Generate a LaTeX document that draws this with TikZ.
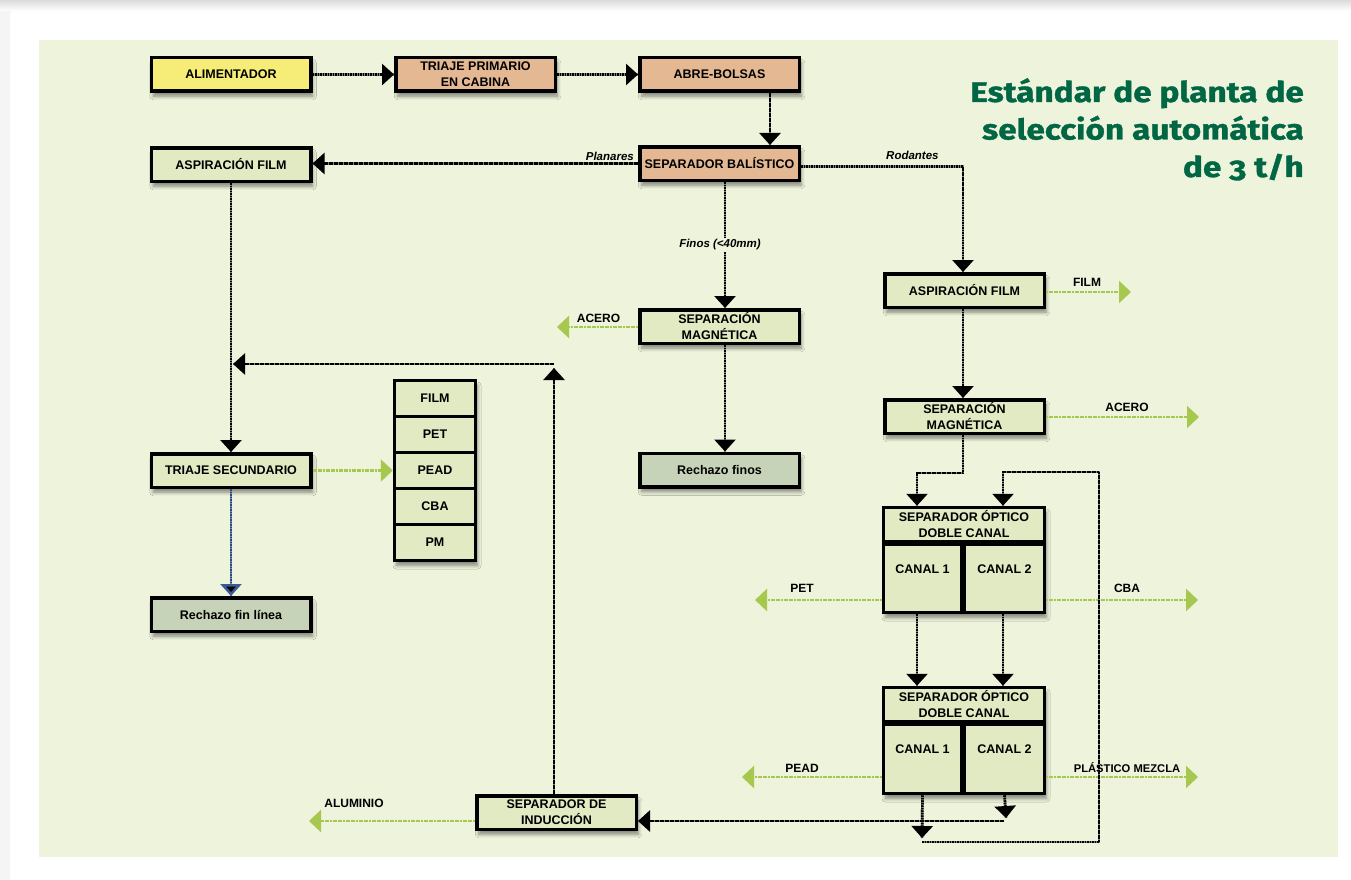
\documentclass[tikz,border=0pt]{standalone}
\usepackage{fontspec}
\setmainfont{Liberation Sans}
\newfontfamily\titlefont[Numbers=OldStyle, FakeStretch=1.17, FakeBold=1.2]{Fira Sans}
\usetikzlibrary{arrows.meta,shadows.blur,calc}

\definecolor{panel}{HTML}{EEF3DC}
\definecolor{boxgreen}{HTML}{E1EAC3}
\definecolor{salmon}{HTML}{E4B892}
\definecolor{feedyellow}{HTML}{F5ED78}
\definecolor{rejectgreen}{HTML}{C7D3B8}
\definecolor{titlegreen}{HTML}{006644}
\definecolor{outgreen}{HTML}{A6C84F}
\definecolor{rejectblue}{HTML}{3A5A96}

\tikzset{
  box/.style={draw=black, line width=3.5pt, fill=boxgreen,
    minimum width=159.5pt, minimum height=33.5pt, inner sep=1pt, align=center,
    font=\fontsize{12.5}{16}\selectfont\bfseries,
    blur shadow={shadow xshift=2pt, shadow yshift=-5pt, shadow opacity=45,
      shadow blur radius=3.5pt, shadow blur steps=8}},
  cell/.style={draw=black, line width=3.5pt, fill=boxgreen, inner sep=0pt,
    align=center, font=\fontsize{12.5}{16}\selectfont\bfseries},
  frame/.style={draw=black, line width=3.5pt, fill=boxgreen, inner sep=0pt,
    blur shadow={shadow xshift=2pt, shadow yshift=-5pt, shadow opacity=45,
      shadow blur radius=3.5pt, shadow blur steps=8}},
  flow/.style={preaction={draw=black!50, line width=2.7pt, solid, -},
    draw=black, line width=2.7pt, dash pattern=on 1.6pt off 0.9pt,
    -{Triangle[length=12pt,width=21pt,color=black,fill=black]}},
  bflow/.style={preaction={draw=rejectblue!70, line width=2.5pt, solid, -},
    draw=rejectblue!80!black, line width=2.5pt, dash pattern=on 1.6pt off 0.9pt,
    -{Triangle[length=12pt,width=21pt,color=rejectblue,fill=black]}},
  gflow/.style={draw=outgreen, line width=2.6pt, dash pattern=on 2pt off 0.6pt,
    -{Triangle[length=12pt,width=22pt,color=outgreen,fill=outgreen]}},
  lab/.style={inner sep=0pt, font=\fontsize{12}{14}\selectfont\bfseries},
  itlab/.style={inner sep=0pt, font=\fontsize{11.5}{14}\selectfont\bfseries\itshape},
}

\begin{document}
\begin{tikzpicture}[x=1pt, y=-1pt]
\useasboundingbox (0,0) rectangle (1351,880);
% page and panel
\fill[gray!8] (0,0) rectangle (1351,880);
\shade[top color=gray!28, bottom color=white] (0,11) rectangle (1351,0);
\fill[white, rounded corners=3pt] (10,11) rectangle (1360,890);
\fill[panel] (39,40) rectangle (1338,857);

% title
\node[anchor=north east, inner sep=0pt, align=right, text=titlegreen,
  font=\titlefont\bfseries\fontsize{28.5}{37.5}\selectfont] (title) at (1304,78)
  {Estándar de planta de\\selección automática\\de 3 t/h};

% main line
\node[box, fill=feedyellow] (alim) at (231,74.5) {ALIMENTADOR};
\node[box, fill=salmon] (triaje1) at (475.5,74.5) {TRIAJE PRIMARIO\\EN CABINA};
\node[box, fill=salmon] (abre) at (719.5,74.5) {ABRE-BOLSAS};
\node[box, fill=salmon] (balis) at (719.5,163.5) {SEPARADOR BALÍSTICO};
\node[box] (aspL) at (231,164.5) {ASPIRACIÓN FILM};
\node[box] (magM) at (719.5,326.5) {SEPARACIÓN\\MAGNÉTICA};
\node[box, fill=rejectgreen] (rechF) at (719.5,470) {Rechazo finos};
\node[box] (triaje2) at (231,470.5) {TRIAJE SECUNDARIO};
\node[box, fill=rejectgreen] (rechL) at (231,614.5) {Rechazo fin línea};
\node[box] (aspR) at (964.5,290.5) {ASPIRACIÓN FILM};
\node[box] (magR) at (964.5,416.5) {SEPARACIÓN\\MAGNÉTICA};
\node[box] (induc) at (556.5,812.5) {SEPARADOR DE\\INDUCCIÓN};

% product stack of the secondary sorting cabin
\node[frame, minimum width=81pt, minimum height=180pt] (stack) at (435,470.5) {};
\node[cell, minimum width=81pt, minimum height=36pt] (sFilm) at (435,398.5) {FILM};
\node[cell, minimum width=81pt, minimum height=36pt] (sPet) at (435,434.5) {PET};
\node[cell, minimum width=81pt, minimum height=36pt] (sPead) at (435,470.5) {PEAD};
\node[cell, minimum width=81pt, minimum height=36pt] (sCba) at (435,506.5) {CBA};
\node[cell, minimum width=81pt, minimum height=36pt] (sPm) at (435,542.5) {PM};

% optical separators, two channels each
\node[frame, minimum width=161pt, minimum height=105pt] (opt1) at (964,560) {};
\node[cell, minimum width=161pt, minimum height=34pt] (opt1h) at (964,524.5) {SEPARADOR ÓPTICO\\DOBLE CANAL};
\node[cell, minimum width=78pt, minimum height=68pt, text depth=19pt] (c11) at (922.5,578.5) {CANAL 1};
\node[cell, minimum width=80pt, minimum height=68pt, text depth=19pt] (c12) at (1004.5,578.5) {CANAL 2};

\node[frame, minimum width=161pt, minimum height=106pt] (opt2) at (964,740.5) {};
\node[cell, minimum width=161pt, minimum height=34pt] (opt2h) at (964,704.5) {SEPARADOR ÓPTICO\\DOBLE CANAL};
\node[cell, minimum width=78pt, minimum height=69pt, text depth=19pt] (c21) at (922.5,759) {CANAL 1};
\node[cell, minimum width=80pt, minimum height=69pt, text depth=19pt] (c22) at (1004.5,759) {CANAL 2};

% free ends and bends
\coordinate (aceroM) at (557,327);
\coordinate (filmR) at (1131,292);
\coordinate (aceroR) at (1199,417);
\coordinate (petE) at (755,600);
\coordinate (cbaE) at (1198,600);
\coordinate (peadE) at (742,777);
\coordinate (pmE) at (1198,777);
\coordinate (aluE) at (309,821);
\coordinate (recUp) at (554,368);
\coordinate (recTop) at (554,364);
\coordinate (recEnd) at (233,364);
\coordinate (j1) at (917,473);
\coordinate (j2) at (1003,614);
\coordinate (o2a) at (922,838);
\coordinate (lp1) at (922,842);
\coordinate (lp2) at (1099,842);
\coordinate (lp3) at (1099,472);
\coordinate (lp4) at (1003,472);
\coordinate (ind1) at (1006,818);
\coordinate (ind2) at (1004,821);

% material flow
\draw[flow] (alim) -- (triaje1);
\draw[flow] (triaje1) -- (abre);
\draw[flow] ([xshift=50.5pt]abre.south) -- ([xshift=50.5pt]balis.north);
\draw[flow] (balis.west) -- (balis.west -| aspL.east);
\node[itlab, anchor=base east] (planares) at (634,160) {Planares};
\draw[flow] ([yshift=-3pt]balis.east) -| ([xshift=-1.5pt]aspR.north);
\node[itlab, anchor=base west] (rodantes) at (886,159) {Rodantes};
\draw[flow] ([xshift=5.5pt]balis.south) -- ([xshift=5.5pt]magM.north);
\node[itlab, fill=panel, inner sep=2pt] (finos) at (720,245) {Finos (<40mm)};
\draw[flow] ([xshift=5.5pt]magM.south) -- ([xshift=5.5pt]rechF.north);
\draw[gflow] (magM.west |- aceroM) -- (aceroM);
\node[lab] (aceroMl) at (598.5,318) {ACERO};

\draw[flow] (aspL) -- (triaje2);
\draw[gflow] (triaje2) -- (sPead);
\draw[bflow] (triaje2) -- (rechL);
\draw[flow] (induc.north -| recUp) -- (recUp);
\draw[flow] (recTop) -- (recEnd);
\draw[gflow] (induc.west |- aluE) -- (aluE);
\node[lab] (alul) at (354,803) {ALUMINIO};

\draw[gflow] (aspR.east |- filmR) -- (filmR);
\node[lab] (filml) at (1087,282) {FILM};
\draw[flow] ([xshift=-1.5pt]aspR.south) -- ([xshift=-1.5pt]magR.north);
\draw[gflow] (magR.east |- aceroR) -- (aceroR);
\node[lab] (aceroRl) at (1127,407) {ACERO};
\draw[flow] ([xshift=-1.5pt]magR.south) |- (j1) -- (j1 |- opt1h.north);

\draw[flow] (j1 |- c11.south) -- (j1 |- opt2h.north);
\draw[flow] (j2 |- c12.south) -- (j2 |- opt2h.north);
\draw[gflow] (opt1.west |- petE) -- (petE);
\node[lab] (petl) at (802,588) {PET};
\draw[gflow] (opt1.east |- cbaE) -- (cbaE);
\node[lab] (cbal) at (1127,588) {CBA};
\draw[gflow] (opt2.west |- peadE) -- (peadE);
\node[lab] (peadl) at (802,768) {PEAD};
\draw[gflow] (opt2.east |- pmE) -- (pmE);
\node[lab, font=\fontsize{11.2}{14}\selectfont\bfseries] (pml) at (1127,768) {PLÁSTICO MEZCLA};

% recirculation and rejects of the second optical unit
\draw[flow] (c21.south) -- (o2a);
\draw[flow] (lp1) -- (lp2) -- (lp3) -- (lp4) -- (lp4 |- opt1h.north);
\draw[flow] (c22.south) -- (ind1);
\draw[flow] (ind2) -- (ind2 -| induc.east);
\end{tikzpicture}
\end{document}
